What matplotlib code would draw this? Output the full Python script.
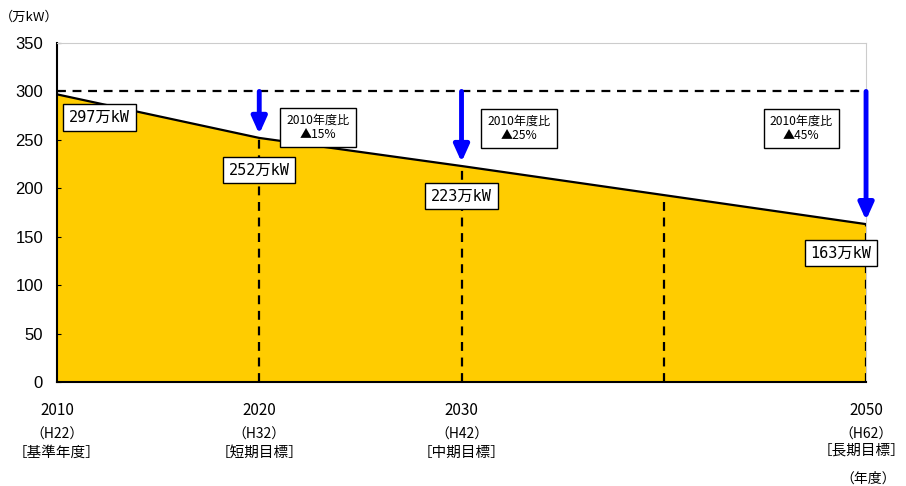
import matplotlib
matplotlib.use("Agg")
import matplotlib.pyplot as plt

plt.rcParams['font.family'] = ['Noto Sans CJK JP', 'DejaVu Sans']
MONO = ['DejaVu Sans Mono', 'Noto Sans CJK JP']

years = [2010, 2020, 2030, 2040, 2050]
values = [297, 252, 223, 193, 163]
baseline = 300
tick_years = [2010, 2020, 2030, 2050]
tick_years_text = ["2010", "2020", "2030", "2050"]
tick_era = ["（H22）", "（H32）", "（H42）", "（H62）"]
tick_goal = ["［基準年度］", "［短期目標］", "［中期目標］", "［長期目標］"]
value_labels = ["297万kW", "252万kW", "223万kW", "163万kW"]
value_label_years = [2010, 2020, 2030, 2050]
value_label_vals = [297, 252, 223, 163]
ratio_labels = ["2010年度比\n▲15%", "2010年度比\n▲25%", "2010年度比\n▲45%"]
ratio_years = [2020, 2030, 2050]
ratio_vals = [252, 223, 163]

fig = plt.figure(figsize=(9.06, 4.86), dpi=100)
ax = fig.add_axes([0.0629, 0.214, 0.893, 0.6975])

ax.fill_between(years, values, 0, color='#FFCC00', zorder=1)
ax.plot(years, values, color='black', lw=1.6, zorder=3)
ax.plot([years[0], years[-1]], [baseline, baseline], color='black', lw=1.6,
        ls=(0, (4, 3)), zorder=3)
for yr, v in zip(years[1:], values[1:]):
    ax.plot([yr, yr], [0, v], color='black', lw=1.6, ls=(0, (4, 3)), zorder=3)

# arrows
for yr, v in zip(ratio_years, ratio_vals):
    ax.annotate("", xy=(yr, v + 4), xytext=(yr, baseline),
                arrowprops=dict(arrowstyle='-|>,head_length=1.0,head_width=0.45',
                                color='#0000FF', lw=3.5, shrinkA=0, shrinkB=0),
                zorder=4)

box = dict(boxstyle='square,pad=0.38', fc='white', ec='black', lw=1)
label_offsets = [(2.1, -24), (0, -33), (0, -31), (-1.25, -30)]
for yr, v, t, off in zip(value_label_years, value_label_vals, value_labels, label_offsets):
    ax.text(yr + off[0], v + off[1], t, ha='center', va='center', fontsize=11,
            family=MONO, bbox=box, zorder=5)

ratio_pos = [(2022.9, 263), (2032.85, 262), (2046.8, 262)]
for (x, y), t in zip(ratio_pos, ratio_labels):
    ax.text(x, y, t, ha='center', va='center', fontsize=8.7, linespacing=1.1,
            bbox=dict(boxstyle='square,pad=0.5', fc='white', ec='black', lw=1),
            zorder=5)

ax.set_xlim(2010, 2050)
ax.set_ylim(0, 350)
ax.set_yticks(range(0, 351, 50))
ax.set_yticklabels([str(v) for v in range(0, 351, 50)],
                   family=['Liberation Sans'], fontsize=12)
ax.set_xticks(tick_years)
ax.set_xticklabels([])
ax.tick_params(axis='y', direction='in', length=3, pad=10)
ax.tick_params(axis='x', length=0)
for s in ['top', 'right']:
    ax.spines[s].set_color('#cccccc')
for s in ['left', 'bottom']:
    ax.spines[s].set_color('black')
    ax.spines[s].set_linewidth(1.5)
ax.spines['bottom'].set_zorder(6)

trans = ax.get_xaxis_transform()
for i, (x, a, b, c) in enumerate(zip(tick_years, tick_years_text, tick_era, tick_goal)):
    ax.text(x, -0.084, a, transform=trans, ha='center', va='center', fontsize=11)
    ax.text(x, -0.155, b, transform=trans, ha='center', va='center', fontsize=10)
    if i == len(tick_years) - 1:
        fig.text(0.9995, 0.072, c, ha='right', va='center', fontsize=10.5)
    else:
        ax.text(x, -0.208, c, transform=trans, ha='center', va='center', fontsize=10.5)

fig.text(0.032, 0.965, "（万kW）", fontsize=9.5, ha='center', va='center')
fig.text(0.958, 0.016, "（年度）", fontsize=10, ha='center', va='center')

fig.savefig("out.png", dpi=100)
